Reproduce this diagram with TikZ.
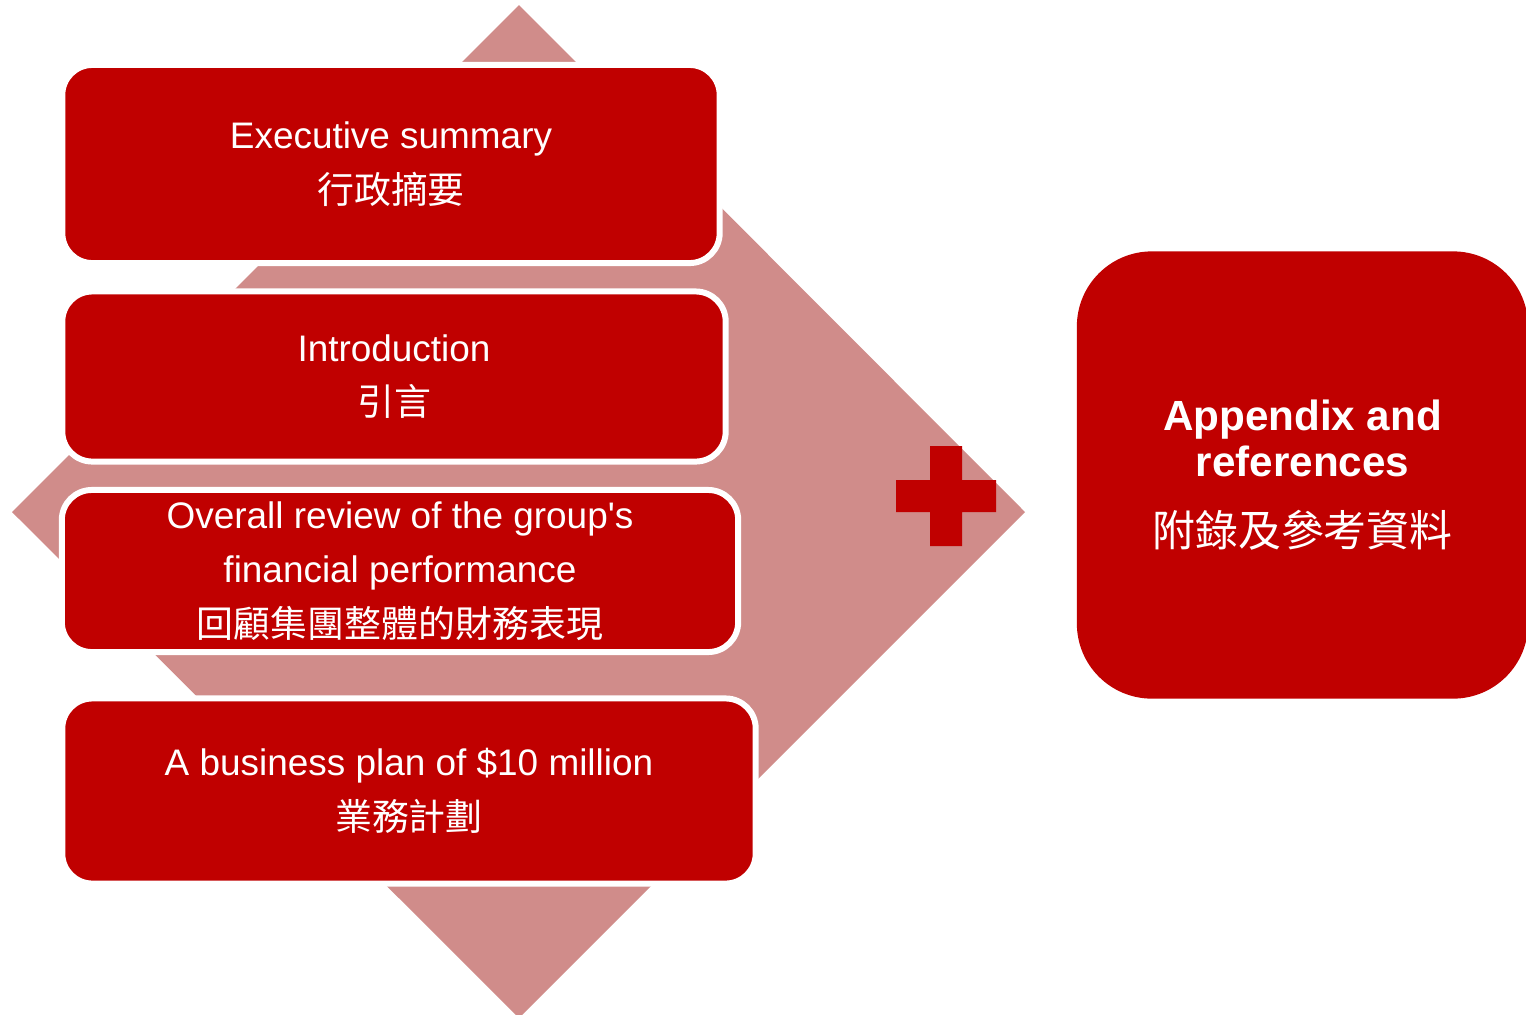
\documentclass[tikz,border=0pt]{standalone}
\usepackage{fontspec}
\setmainfont{Liberation Sans}
\newfontfamily\tcfont{Noto Sans CJK TC}
\definecolor{boxred}{RGB}{192,0,0}
\definecolor{diapink}{RGB}{208,140,138}
\begin{document}
\begin{tikzpicture}
		[	x=0.01cm,y=-0.01cm,
		box/.style={rectangle,rounded corners=0.3cm,draw=white,line width=1.7pt,fill=boxred,text=white,align=center,inner sep=0pt,font=\fontsize{10.5}{15.5}\selectfont},
		bigbox/.style={rectangle,rounded corners=0.75cm,fill=boxred,text=white,align=center,inner sep=0pt,minimum width=4.51cm,minimum height=4.47cm,font=\fontsize{12}{13}\selectfont\bfseries}
		]
		\useasboundingbox (0,0) rectangle (1526,1014);
		% background diamond and plus sign
		\fill[diapink] (519,5) -- (1025,512) -- (519,1018) -- (12,512) -- cycle;
		\fill[boxred] (896,480) rectangle (996,512) (930,446) rectangle (962,546);

		\node[box,minimum width=6.57cm,minimum height=1.98cm] (summary) at (391,164){Executive summary\\{\tcfont 行政摘要}};
		\node[box,minimum width=6.63cm,minimum height=1.70cm] (intro) at (394,376.5){Introduction\\{\tcfont 引言}};
		\node[box,minimum width=6.76cm,minimum height=1.62cm] (review) at (400,571){Overall review of the group\textquotesingle s\\financial performance\\{\tcfont 回顧集團整體的財務表現}};
		\node[box,minimum width=6.93cm,minimum height=1.85cm] (plan) at (409,791){A business plan of \$10 million\\{\tcfont 業務計劃}};

		\node[bigbox] (appendix) at (1302.5,475){Appendix and\\references\\[7pt]{\tcfont\mdseries\fontsize{12.2}{14}\selectfont 附錄及參考資料}};
	\end{tikzpicture}
\end{document}
